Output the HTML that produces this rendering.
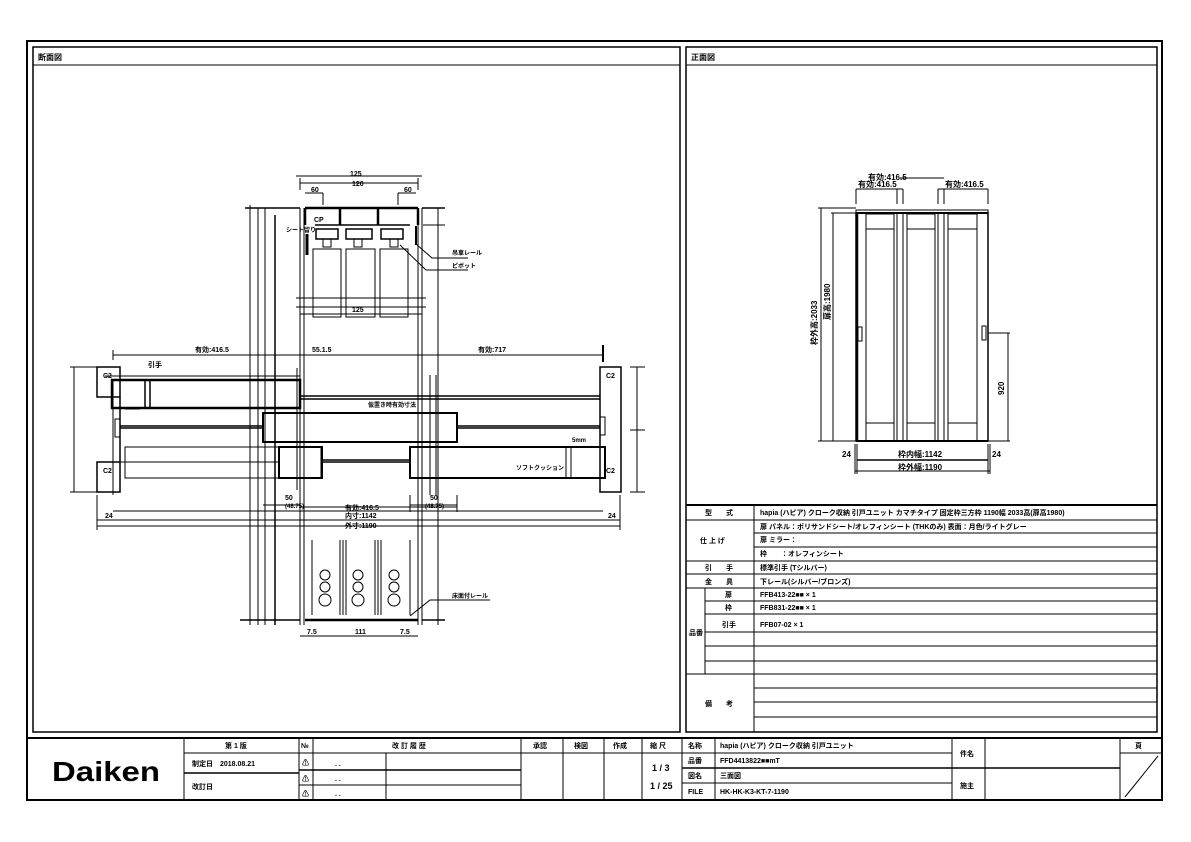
<!DOCTYPE html>
<html><head><meta charset="utf-8"><style>
body{margin:0;background:#fff}
svg{display:block}
text{font-family:"Liberation Sans","Noto Sans CJK JP",sans-serif;font-weight:bold;fill:#000}
</style></head><body>
<svg width="1191" height="842" viewBox="0 0 1191 842" xmlns="http://www.w3.org/2000/svg">
<g fill="none" stroke="#000">
<rect x="27" y="41" width="1135" height="759" stroke-width="2"/>
<rect x="33" y="47" width="647" height="685" stroke-width="1.5"/>
<line x1="33" y1="65" x2="680" y2="65"/>
<rect x="686" y="47" width="471" height="685" stroke-width="1.5"/>
<line x1="686" y1="65" x2="1157" y2="65"/>
<g stroke-width="1">
<line x1="686" y1="505" x2="1157" y2="505" stroke-width="2"/>
<line x1="754" y1="505" x2="754" y2="732"/>
<line x1="686" y1="520" x2="1157" y2="520"/>
<line x1="754" y1="533" x2="1157" y2="533"/>
<line x1="754" y1="547" x2="1157" y2="547"/>
<line x1="686" y1="561" x2="1157" y2="561"/>
<line x1="686" y1="574" x2="1157" y2="574"/>
<line x1="686" y1="588" x2="1157" y2="588"/>
<line x1="705" y1="601" x2="1157" y2="601"/>
<line x1="705" y1="614" x2="1157" y2="614"/>
<line x1="705" y1="632" x2="1157" y2="632"/>
<line x1="705" y1="646" x2="1157" y2="646"/>
<line x1="705" y1="661" x2="1157" y2="661"/>
<line x1="686" y1="674" x2="1157" y2="674"/>
<line x1="705" y1="588" x2="705" y2="674"/>
<line x1="754" y1="688" x2="1157" y2="688"/>
<line x1="754" y1="702" x2="1157" y2="702"/>
<line x1="754" y1="717" x2="1157" y2="717"/>
</g>
<rect x="27" y="738" width="1135" height="62" stroke-width="2"/>
<line x1="184" y1="738" x2="184" y2="800"/>
<line x1="299" y1="738" x2="299" y2="800"/>
<line x1="313" y1="738" x2="313" y2="800"/>
<line x1="386" y1="753" x2="386" y2="800"/>
<line x1="521" y1="738" x2="521" y2="800"/>
<line x1="563" y1="738" x2="563" y2="800"/>
<line x1="604" y1="738" x2="604" y2="800"/>
<line x1="642" y1="738" x2="642" y2="800"/>
<line x1="682" y1="738" x2="682" y2="800"/>
<line x1="715" y1="738" x2="715" y2="800"/>
<line x1="952" y1="738" x2="952" y2="800"/>
<line x1="985" y1="738" x2="985" y2="800"/>
<line x1="1120" y1="738" x2="1120" y2="800"/>
<line x1="184" y1="753" x2="299" y2="753"/>
<line x1="184" y1="773" x2="299" y2="773" stroke-width="1.5"/>
<line x1="299" y1="753" x2="521" y2="753"/>
<line x1="299" y1="770" x2="521" y2="770" stroke-width="1.5"/>
<line x1="299" y1="785" x2="521" y2="785"/>
<line x1="521" y1="753" x2="682" y2="753"/>
<line x1="682" y1="753" x2="952" y2="753"/>
<line x1="682" y1="768" x2="1120" y2="768" stroke-width="1.5"/>
<line x1="682" y1="783" x2="952" y2="783"/>
<line x1="1120" y1="753" x2="1162" y2="753"/>
<line x1="1125" y1="797" x2="1158" y2="756"/>

<rect x="856" y="210" width="132" height="3"/>
<rect x="856" y="213" width="132" height="228" stroke-width="1.5"/>
<line x1="856" y1="213" x2="988" y2="213" stroke-width="2"/>
<line x1="857" y1="213" x2="857" y2="441" stroke-width="2.5"/>
<line x1="856" y1="441" x2="988" y2="441" stroke-width="2"/>
<rect x="866" y="214" width="28" height="227"/>
<line x1="866" y1="229" x2="894" y2="229"/><line x1="866" y1="423" x2="894" y2="423"/>
<line x1="897" y1="214" x2="897" y2="441"/><line x1="903" y1="214" x2="903" y2="441"/>
<rect x="907" y="214" width="28" height="227"/>
<line x1="907" y1="229" x2="935" y2="229"/><line x1="907" y1="423" x2="935" y2="423"/>
<line x1="938" y1="214" x2="938" y2="441"/><line x1="944" y1="214" x2="944" y2="441"/>
<rect x="948" y="214" width="29" height="227"/>
<line x1="948" y1="229" x2="977" y2="229"/><line x1="948" y1="423" x2="977" y2="423"/>
<rect x="858" y="327" width="4" height="14"/><rect x="982" y="326" width="4" height="14"/>
<line x1="821" y1="208" x2="821" y2="441"/><line x1="818" y1="208" x2="856" y2="208"/><line x1="818" y1="441" x2="856" y2="441"/>
<line x1="833" y1="213" x2="833" y2="441"/><line x1="831" y1="213" x2="856" y2="213"/>
<line x1="1008" y1="333" x2="1008" y2="441"/><line x1="988" y1="333" x2="1010" y2="333"/><line x1="988" y1="441" x2="1010" y2="441"/>
<line x1="856" y1="189" x2="903" y2="189"/><line x1="856" y1="189" x2="856" y2="204"/><line x1="897" y1="189" x2="897" y2="204"/><line x1="903" y1="189" x2="903" y2="204"/>
<line x1="938" y1="189" x2="988" y2="189"/><line x1="944" y1="189" x2="944" y2="204"/><line x1="938" y1="189" x2="938" y2="204"/><line x1="988" y1="189" x2="988" y2="204"/>
<line x1="900" y1="178" x2="944" y2="178"/>
<line x1="857" y1="460" x2="988" y2="460" stroke-width="1.5"/>
<line x1="855" y1="471" x2="990" y2="471"/>
<line x1="857" y1="444" x2="857" y2="474"/><line x1="988" y1="444" x2="988" y2="474"/><line x1="855" y1="444" x2="855" y2="474"/><line x1="990" y1="444" x2="990" y2="474"/>

<g stroke-width="1">
<line x1="250" y1="205" x2="250" y2="625"/>
<line x1="258" y1="208" x2="258" y2="625"/>
<line x1="265" y1="208" x2="265" y2="625"/>
<line x1="275" y1="215" x2="275" y2="625" stroke-width="1.5"/>
<line x1="300" y1="208" x2="300" y2="625"/>
<line x1="304" y1="208" x2="304" y2="625"/>
<line x1="418" y1="208" x2="418" y2="625"/>
<line x1="422" y1="208" x2="422" y2="625"/>
<line x1="438" y1="208" x2="438" y2="625"/>
<line x1="436" y1="375" x2="436" y2="495"/>
<line x1="245" y1="208" x2="300" y2="208" stroke-width="1.5"/>
<line x1="305" y1="208" x2="418" y2="208" stroke-width="2.5"/>
<line x1="422" y1="208" x2="445" y2="208" stroke-width="1.5"/>
<line x1="418" y1="208" x2="418" y2="225" stroke-width="2.5"/>
<line x1="305" y1="208" x2="305" y2="225" stroke-width="2.5"/>
<line x1="340" y1="208" x2="340" y2="225" stroke-width="2.5"/>
<line x1="378" y1="208" x2="378" y2="225" stroke-width="2.5"/>
<line x1="315" y1="225" x2="410" y2="225" stroke-width="1.5"/>
<rect x="316" y="229" width="22" height="10" stroke-width="1.5"/>
<rect x="346" y="229" width="26" height="10" stroke-width="1.5"/>
<rect x="381" y="229" width="22" height="10" stroke-width="1.5"/>
<rect x="323" y="239" width="8" height="8"/><rect x="354" y="239" width="8" height="8"/><rect x="390" y="239" width="8" height="8"/>
<rect x="313" y="249" width="28" height="68"/><rect x="346" y="249" width="29" height="68"/><rect x="380" y="249" width="28" height="68"/>
<line x1="307" y1="234" x2="307" y2="255" stroke-width="3"/><line x1="416" y1="226" x2="416" y2="245" stroke-width="2"/>
<line x1="296" y1="298" x2="426" y2="298"/><line x1="296" y1="307" x2="426" y2="307"/><line x1="300" y1="314" x2="422" y2="314"/>
<line x1="300" y1="183" x2="418" y2="183"/><line x1="296" y1="176" x2="422" y2="176"/>
<line x1="300" y1="178" x2="300" y2="190"/><line x1="418" y1="178" x2="418" y2="190"/>
<line x1="305" y1="193" x2="323" y2="193"/><line x1="323" y1="193" x2="323" y2="205"/>
<line x1="398" y1="193" x2="416" y2="193"/><line x1="398" y1="193" x2="398" y2="205"/>
<line x1="423" y1="225" x2="445" y2="225"/>
<polyline points="416,244 432,258 468,258"/><polyline points="400,245 426,270 468,270"/>
<line x1="113" y1="355" x2="603" y2="355"/>
<line x1="113" y1="350" x2="113" y2="360"/><line x1="603" y1="345" x2="603" y2="362" stroke-width="2"/>
<rect x="97" y="367" width="23" height="30" stroke-width="1.5"/>
<rect x="97" y="462" width="23" height="30" stroke-width="1.5"/>
<line x1="120" y1="397" x2="120" y2="462" stroke-width="1.5"/>
<rect x="600" y="367" width="21" height="125" stroke-width="1.5"/>
<rect x="112" y="380" width="188" height="28" stroke-width="2.5"/>
<line x1="300" y1="396" x2="600" y2="396" stroke-width="1.5"/><line x1="300" y1="399" x2="600" y2="399" stroke-width="1.5"/>
<line x1="145" y1="380" x2="145" y2="408" stroke-width="1.5"/><line x1="150" y1="380" x2="150" y2="408" stroke-width="1.5"/>
<line x1="105" y1="376" x2="300" y2="376"/>
<line x1="125" y1="409" x2="140" y2="409"/>
<rect x="263" y="413" width="194" height="29" stroke-width="2"/>
<line x1="120" y1="426" x2="263" y2="426" stroke-width="1.5"/><line x1="120" y1="428" x2="263" y2="428" stroke-width="1.5"/>
<line x1="457" y1="426" x2="600" y2="426" stroke-width="1.5"/><line x1="457" y1="428" x2="600" y2="428" stroke-width="1.5"/>
<rect x="115" y="419" width="5" height="18"/>
<rect x="600" y="417" width="5" height="18"/>
<rect x="125" y="447" width="196" height="31"/>
<rect x="279" y="447" width="43" height="31" stroke-width="2"/>
<rect x="410" y="447" width="195" height="31" stroke-width="2"/>
<line x1="322" y1="460" x2="410" y2="460" stroke-width="1.5"/><line x1="322" y1="462" x2="410" y2="462" stroke-width="1.5"/>
<line x1="120" y1="462" x2="279" y2="462"/>
<line x1="566" y1="447" x2="566" y2="478"/><line x1="571" y1="447" x2="571" y2="478"/>
<line x1="113" y1="380" x2="113" y2="495"/>
<line x1="70" y1="367" x2="97" y2="367"/><line x1="70" y1="492" x2="97" y2="492"/><line x1="74" y1="367" x2="74" y2="492"/>
<line x1="630" y1="367" x2="645" y2="367"/><line x1="630" y1="492" x2="645" y2="492"/><line x1="637" y1="367" x2="637" y2="492"/>
<line x1="630" y1="430" x2="645" y2="430"/>
<line x1="297" y1="368" x2="297" y2="490"/>
<line x1="430" y1="375" x2="430" y2="495"/>
<line x1="97" y1="520" x2="620" y2="520"/><line x1="97" y1="526" x2="620" y2="526"/>
<line x1="113" y1="511" x2="603" y2="511"/>
<line x1="300" y1="507" x2="457" y2="507"/>
<line x1="97" y1="495" x2="97" y2="530"/><line x1="620" y1="495" x2="620" y2="530"/>
<line x1="263" y1="505" x2="300" y2="505"/><line x1="410" y1="505" x2="457" y2="505"/>
<line x1="300" y1="495" x2="300" y2="512"/><line x1="410" y1="495" x2="410" y2="512"/><line x1="457" y1="495" x2="457" y2="512"/>
<line x1="312" y1="540" x2="312" y2="615"/><line x1="340" y1="540" x2="340" y2="615"/>
<line x1="346" y1="540" x2="346" y2="615"/><line x1="375" y1="540" x2="375" y2="615"/>
<line x1="381" y1="540" x2="381" y2="615"/><line x1="410" y1="540" x2="410" y2="615"/>
<line x1="343" y1="540" x2="343" y2="615"/><line x1="378" y1="540" x2="378" y2="615"/>
<circle cx="325" cy="575" r="5"/><circle cx="325" cy="587" r="5"/><circle cx="325" cy="600" r="6"/>
<circle cx="358" cy="575" r="5"/><circle cx="358" cy="587" r="5"/><circle cx="358" cy="600" r="6"/>
<circle cx="394" cy="575" r="5"/><circle cx="394" cy="587" r="5"/><circle cx="394" cy="600" r="6"/>
<line x1="305" y1="620" x2="418" y2="620" stroke-width="2.5"/>
<line x1="240" y1="620" x2="300" y2="620" stroke-width="1.5"/><line x1="422" y1="620" x2="445" y2="620" stroke-width="1.5"/>
<line x1="300" y1="636" x2="418" y2="636"/>
<polyline points="410,616 430,600 490,600"/>
</g>
</g>

<g font-size="7">
<text x="38" y="60" font-size="8">断面図</text>
<text x="691" y="60" font-size="8">正面図</text>
<text x="350" y="176">125</text><text x="352" y="186">120</text>
<text x="311" y="192">60</text><text x="404" y="192">60</text>
<text x="314" y="222">CP</text><text x="286" y="232" font-size="6">シート留り</text>
<text x="452" y="255" font-size="6">吊車レール</text><text x="452" y="268" font-size="6">ピボット</text>
<text x="352" y="312">125</text>
<text x="195" y="352">有効:416.5</text><text x="312" y="352">55.1.5</text><text x="478" y="352">有効:717</text>
<text x="148" y="367">引手</text>
<text x="368" y="407" font-size="6">仮置き時有効寸法</text>
<text x="572" y="442" font-size="6">5mm</text>
<text x="516" y="470" font-size="6">ソフトクッション</text>
<text x="285" y="500">50</text><text x="430" y="500">50</text>
<text x="285" y="508" font-size="6">(48.75)</text><text x="425" y="508" font-size="6">(48.75)</text>
<text x="345" y="510">有効:416.5</text>
<text x="345" y="518">内寸:1142</text><text x="345" y="528">外寸:1190</text>
<text x="105" y="518">24</text><text x="608" y="518">24</text>
<text x="103" y="378">C2</text><text x="606" y="378">C2</text>
<text x="103" y="473">C2</text><text x="606" y="473">C2</text>
<text x="452" y="598" font-size="6">床面付レール</text>
<text x="307" y="634">7.5</text><text x="355" y="634">111</text><text x="400" y="634">7.5</text>
<text x="868" y="180" font-size="8">有効:416.5</text>
<text x="858" y="187" font-size="8">有効:416.5</text><text x="945" y="187" font-size="8">有効:416.5</text>
<text x="898" y="457" font-size="8">枠内幅:1142</text>
<text x="898" y="470" font-size="8">枠外幅:1190</text>
<text x="842" y="457" font-size="8">24</text><text x="992" y="457" font-size="8">24</text>
<text transform="translate(817,345) rotate(-90)" font-size="8">枠外高:2033</text>
<text transform="translate(830,320) rotate(-90)" font-size="8">扉高:1980</text>
<text transform="translate(1004,395) rotate(-90)" font-size="8">920</text>
<text x="705" y="515">型　　式</text>
<text x="760" y="515">hapia (ハピア) クローク収納 引戸ユニット カマチタイプ 固定枠三方枠 1190幅 2033高(扉高1980)</text>
<text x="700" y="543">仕 上 げ</text>
<text x="760" y="529">扉 パネル：ポリサンドシート/オレフィンシート (THKのみ) 表面：月色/ライトグレー</text>
<text x="760" y="542">扉 ミラー：</text>
<text x="760" y="556">枠　　：オレフィンシート</text>
<text x="705" y="570">引　　手</text><text x="760" y="570">標準引手 (Tシルバー)</text>
<text x="705" y="584">金　　具</text><text x="760" y="584">下レール(シルバー/ブロンズ)</text>
<text x="725" y="597">扉</text><text x="760" y="597">FFB413-22■■ × 1</text>
<text x="725" y="610">枠</text><text x="760" y="610">FFB831-22■■ × 1</text>
<text x="722" y="627">引手</text><text x="760" y="627">FFB07-02 × 1</text>
<text x="689" y="635">品番</text>
<text x="705" y="706">備　　考</text>
<text x="225" y="748">第 1 版</text>
<text x="192" y="766">制定日　2018.08.21</text>
<text x="192" y="789">改訂日</text>
<text x="301" y="748">№</text><text x="392" y="748">改 訂 履 歴</text>
<text x="302" y="765">⚠</text><text x="302" y="781">⚠</text><text x="302" y="796">⚠</text>
<text x="335" y="766">. .</text><text x="335" y="781">. .</text><text x="335" y="796">. .</text>
<text x="533" y="748">承認</text><text x="574" y="748">検図</text><text x="613" y="748">作成</text><text x="650" y="748">縮 尺</text>
<text x="652" y="771" font-size="9">1 / 3</text><text x="650" y="789" font-size="9">1 / 25</text>
<text x="688" y="748">名称</text><text x="720" y="748">hapia (ハピア) クローク収納 引戸ユニット</text>
<text x="688" y="763">品番</text><text x="720" y="763">FFD4413822■■mT</text>
<text x="688" y="778">図名</text><text x="720" y="778">三面図</text>
<text x="688" y="794">FILE</text><text x="720" y="794">HK-HK-K3-KT-7-1190</text>
<text x="960" y="756">件名</text><text x="960" y="788">施主</text><text x="1135" y="748">頁</text>
<text x="52" y="781" font-size="28" textLength="108" lengthAdjust="spacingAndGlyphs">Daiken</text>
</g>
</svg>
</body></html>
